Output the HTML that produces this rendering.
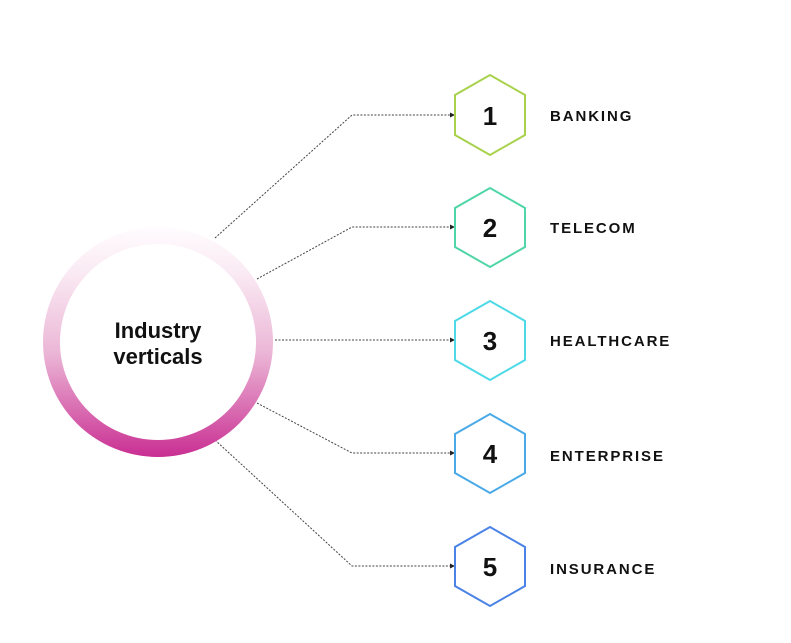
<!DOCTYPE html>
<html><head><meta charset="utf-8"><style>
html,body{margin:0;padding:0;background:#fff;}
svg{display:block;}
text{font-family:"Liberation Sans",sans-serif;font-weight:bold;fill:#111;}
</style></head><body>
<svg width="791" height="643" viewBox="0 0 791 643" xmlns="http://www.w3.org/2000/svg">
<defs>
<linearGradient id="g" x1="0" y1="0" x2="0" y2="1">
<stop offset="0" stop-color="#fffcfe"/>
<stop offset="0.2" stop-color="#faeaf3"/>
<stop offset="0.55" stop-color="#ebb6d6"/>
<stop offset="1" stop-color="#c92e92"/>
</linearGradient>
<marker id="a" markerWidth="6" markerHeight="6" refX="5" refY="3" orient="auto" markerUnits="userSpaceOnUse">
<path d="M0,0.5 L5,3 L0,5.5 z" fill="#222"/>
</marker>
</defs>
<g fill="none" stroke="#444" stroke-width="1" stroke-dasharray="2,1.5">
<polyline points="215,238 352,115 455,115" marker-end="url(#a)"/>
<polyline points="257,279 352,227 455,227" marker-end="url(#a)"/>
<polyline points="275,340 455,340" marker-end="url(#a)"/>
<polyline points="257,403 352,453 455,453" marker-end="url(#a)"/>
<polyline points="215,440 352,566 455,566" marker-end="url(#a)"/>
</g>
<circle cx="158" cy="342" r="115" fill="url(#g)"/>
<circle cx="158" cy="342" r="98" fill="#fff"/>
<text x="158" y="338" font-size="22" text-anchor="middle">Industry</text>
<text x="158" y="364" font-size="22" text-anchor="middle">verticals</text>
<g fill="#fff" stroke-width="2">
<polygon points="490,75 525,95 525,135 490,155 455,135 455,95" stroke="#a9d24c"/>
<polygon points="490,188 525,208 525,247 490,267 455,247 455,208" stroke="#50d6a6"/>
<polygon points="490,301 525,321 525,360 490,380 455,360 455,321" stroke="#4dd9e6"/>
<polygon points="490,414 525,434 525,473 490,493 455,473 455,434" stroke="#4aaae8"/>
<polygon points="490,527 525,547 525,586 490,606 455,586 455,547" stroke="#4a82e6"/>
</g>
<g font-size="26" text-anchor="middle">
<text x="490" y="125">1</text>
<text x="490" y="237">2</text>
<text x="490" y="350">3</text>
<text x="490" y="463">4</text>
<text x="490" y="576">5</text>
</g>
<g font-size="15" letter-spacing="1.9">
<text x="550" y="121">BANKING</text>
<text x="550" y="233">TELECOM</text>
<text x="550" y="346">HEALTHCARE</text>
<text x="550" y="461">ENTERPRISE</text>
<text x="550" y="574">INSURANCE</text>
</g>
</svg>
</body></html>
